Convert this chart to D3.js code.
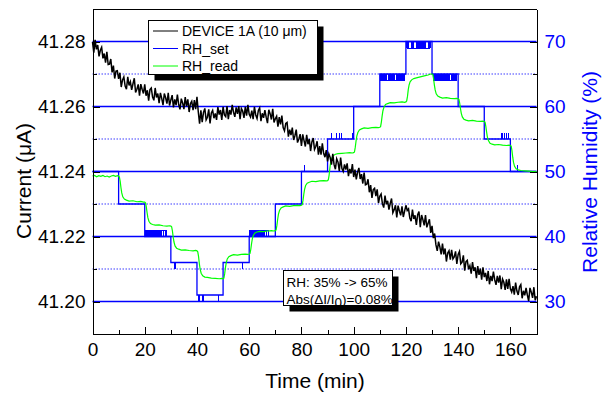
<!DOCTYPE html>
<html><head><meta charset="utf-8">
<script src="https://cdn.jsdelivr.net/npm/d3@7"></script>
<style>
body{margin:0;background:#fff}
text{font-family:"Liberation Sans",Arial,sans-serif}
</style>
</head><body>
<svg id="chart" width="604" height="396"></svg>
<script>
// ---------- data ----------
const xTicks = [0,20,40,60,80,100,120,140,160];
const xMinorTicks = [10,30,50,70,90,110,130,150,170];
const yLeftTicks = [41.20,41.22,41.24,41.26,41.28];
const yLeftMinorTicks = [41.21,41.23,41.25,41.27];
const yRightTicks = [30,40,50,60,70];
const yRightMinorTicks = [35,45,55,65];

const legendLabels = ["DEVICE 1A (10 μm)","RH_set","RH_read"];
const annotationLine1 = "RH: 35% -> 65%";

// current of DEVICE 1A (µA), one sample every 0.5 min from t = 0
const currentStepMin = 0.5;
const current = [
41.2799,41.2766,41.2805,41.2776,41.2789,41.2754,41.2773,41.2782,41.2748,41.2763,
41.2735,41.2768,41.2729,41.2730,41.2746,41.2705,41.2726,41.2686,41.2709,41.2710,
41.2685,41.2704,41.2660,41.2682,41.2691,41.2663,41.2653,41.2691,41.2665,41.2676,
41.2651,41.2670,41.2687,41.2643,41.2653,41.2668,41.2633,41.2669,41.2653,41.2640,
41.2668,41.2633,41.2650,41.2618,41.2652,41.2657,41.2629,41.2619,41.2657,41.2628,
41.2640,41.2610,41.2642,41.2625,41.2604,41.2640,41.2627,41.2609,41.2642,41.2603,
41.2620,41.2635,41.2597,41.2622,41.2604,41.2637,41.2606,41.2591,41.2624,41.2611,
41.2592,41.2629,41.2601,41.2622,41.2583,41.2609,41.2616,41.2589,41.2620,41.2592,
41.2630,41.2584,41.2547,41.2588,41.2552,41.2582,41.2594,41.2559,41.2567,41.2591,
41.2548,41.2580,41.2588,41.2564,41.2579,41.2559,41.2598,41.2575,41.2589,41.2559,
41.2599,41.2574,41.2569,41.2601,41.2561,41.2589,41.2575,41.2605,41.2582,41.2568,
41.2597,41.2577,41.2601,41.2561,41.2594,41.2586,41.2565,41.2599,41.2572,41.2605,
41.2576,41.2568,41.2587,41.2561,41.2599,41.2574,41.2563,41.2588,41.2596,41.2555,
41.2579,41.2565,41.2589,41.2567,41.2549,41.2590,41.2578,41.2560,41.2593,41.2551,
41.2562,41.2570,41.2538,41.2567,41.2545,41.2572,41.2535,41.2525,41.2548,41.2551,
41.2507,41.2529,41.2512,41.2535,41.2497,41.2510,41.2529,41.2489,41.2500,41.2515,
41.2479,41.2514,41.2495,41.2477,41.2513,41.2484,41.2500,41.2463,41.2491,41.2503,
41.2468,41.2477,41.2493,41.2452,41.2478,41.2452,41.2487,41.2456,41.2444,41.2466,
41.2431,41.2454,41.2443,41.2421,41.2454,41.2421,41.2407,41.2439,41.2429,41.2402,
41.2443,41.2409,41.2400,41.2422,41.2406,41.2425,41.2386,41.2408,41.2394,41.2423,
41.2383,41.2406,41.2376,41.2398,41.2411,41.2377,41.2392,41.2363,41.2397,41.2359,
41.2361,41.2376,41.2336,41.2358,41.2319,41.2344,41.2348,41.2324,41.2345,41.2303,
41.2324,41.2331,41.2301,41.2289,41.2326,41.2299,41.2310,41.2283,41.2302,41.2317,
41.2273,41.2282,41.2296,41.2259,41.2295,41.2278,41.2265,41.2293,41.2260,41.2278,
41.2296,41.2280,41.2285,41.2257,41.2247,41.2283,41.2254,41.2265,41.2236,41.2267,
41.2277,41.2229,41.2266,41.2252,41.2234,41.2266,41.2228,41.2241,41.2253,41.2211,
41.2233,41.2195,41.2209,41.2174,41.2156,41.2184,41.2168,41.2145,41.2178,41.2145,
41.2163,41.2123,41.2149,41.2156,41.2129,41.2159,41.2131,41.2137,41.2154,41.2116,
41.2145,41.2154,41.2116,41.2121,41.2142,41.2095,41.2123,41.2127,41.2099,41.2110,
41.2086,41.2121,41.2094,41.2105,41.2072,41.2109,41.2082,41.2101,41.2067,41.2105,
41.2075,41.2088,41.2063,41.2094,41.2053,41.2079,41.2063,41.2092,41.2067,41.2051,
41.2079,41.2058,41.2080,41.2038,41.2069,41.2059,41.2036,41.2068,41.2039,41.2070,
41.2039,41.2029,41.2047,41.2021,41.2058,41.2032,41.2020,41.2045,41.2052,41.2010,
41.2033,41.2019,41.2042,41.2020,41.2001,41.2042,41.2029,41.2011,41.2044,41.2004,
41.2016];

// RH set-point steps [time (min), RH %]
const rhSet = [[0,50],[10,45],[20,40],[30,36],[40,31],[50,36],[60,40],[70,45],[80,50],
  [90,55],[100,60],[110,65],[120,70],[130,65],[140,60],[150,55],[160,50],[170,50]];

// short excursions of the set-point [time (min), RH %]
const rhSetSpikes = [
 [20.3,41],[20.5,41],[20.7,41],[20.9,41],[21.1,41],[21.3,41],[21.5,41],[21.7,41],[21.9,41],[22.1,41],
 [22.3,41],[22.5,41],[22.7,41],[22.9,41],[23.1,41],[23.3,41],[23.5,41],[23.7,41],[23.9,41],[24.1,41],
 [24.3,41],[24.5,41],[24.7,41],[24.9,41],[25.1,41],[25.3,41],[25.6,41],[25.9,41],[26.2,41],[26.6,41],
 [27.0,41],[27.3,41],[27.8,41],[28.4,41],
 [31.3,35],[31.7,35],
 [40.4,30],[40.8,30],[42.0,30],[42.4,30],[48.1,30],
 [57.6,35],
 [60.3,41],[60.5,41],[60.7,41],[60.9,41],[61.1,41],[61.3,41],[61.5,41],[61.7,41],[61.9,41],[62.1,41],
 [62.3,41],[62.5,41],[62.7,41],[62.9,41],[63.1,41],[63.3,41],[63.5,41],[63.7,41],[63.9,41],[64.1,41],
 [64.3,41],[64.5,41],[64.8,41],[65.1,41],[65.4,41],[66.0,41],[66.6,41],[67.2,41],
 [81.3,51],
 [91.7,56],[93.6,56],[94.4,56],[95.4,56],[99.7,56],
 [110.4,64],[110.6,64],[110.8,64],[111.0,64],[111.2,64],[111.4,64],[111.6,64],[111.8,64],[112.0,64],
 [112.2,64],[112.4,64],[112.6,64],[113.2,64],[113.4,64],[113.6,64],[113.8,64],[114.0,64],[114.2,64],
 [114.4,64],[114.6,64],[114.8,64],[115.0,64],[115.2,64],[115.4,64],[115.6,64],[115.8,64],[116.4,64],
 [116.6,64],[116.8,64],[117.0,64],[117.2,64],[117.4,64],[117.6,64],[117.8,64],[118.0,64],[118.2,64],
 [118.4,64],[118.6,64],[118.8,64],[119.0,64],[119.3,64],
 [120.3,69],[120.6,69],[121.0,69],[122.0,69],[122.3,69],[122.6,69],[123.0,69],[124.0,69],[124.3,69],
 [124.6,69],[124.9,69],[125.2,69],[125.5,69],[125.8,69],[126.1,69],[126.4,69],[126.7,69],[127.0,69],
 [127.3,69],[127.6,69],[128.5,69],[128.8,69],[129.1,69],[129.4,69],
 [130.4,64],[130.6,64],[130.8,64],[131.0,64],[131.2,64],[131.4,64],[131.6,64],[131.8,64],[132.0,64],
 [132.2,64],[132.4,64],[132.6,64],[132.8,64],[133.4,64],[133.6,64],[133.8,64],[134.0,64],[134.2,64],
 [134.4,64],[134.6,64],[134.8,64],[135.0,64],[135.2,64],[135.4,64],[135.6,64],[135.8,64],[136.0,64],
 [136.2,64],[136.4,64],[136.6,64],[136.8,64],[137.4,64],[137.6,64],[137.8,64],[138.0,64],[138.2,64],
 [138.4,64],[138.6,64],[138.8,64],[139.0,64],[139.2,64],[139.5,64],
 [156.6,56],[157.1,56],[157.6,56],[158.6,56],[159.2,56],
 [162.7,51]];

// measured RH [time (min), RH %]
const rhRead = [
 [0,49.3],[0.8,49.4],[1.6,49.2],[2.4,49.35],[3.2,49.25],[4,49.4],[4.8,49.2],[5.6,49.3],[6.4,49.15],[7.2,49.3],[8,49.4],[8.8,49.25],[9.6,49.35],
 [10,49.3],[10.3,49.15],[10.6,48.5],[10.9,47.5],[11.2,46.7],[11.6,46.1],[12.2,45.75],[13,45.6],[14,45.45],[15.5,45.5],[17,45.35],[18.5,45.4],[19.5,45.3],
 [20,45.3],[20.3,45.2],[20.6,44.55],[20.9,43.65],[21.2,42.9],[21.6,42.35],[22.2,42.0],[23,41.85],[24,41.75],[25.5,41.8],[27,41.65],[28.5,41.6],[29.5,41.65],
 [30,41.6],[30.3,41.5],[30.6,40.85],[30.9,39.9],[31.2,39.15],[31.6,38.55],[32.2,38.2],[33,38.05],[34,37.9],[35.5,37.95],[37,37.85],[38.5,37.8],[39.5,37.85],
 [40,37.8],[40.3,37.65],[40.6,36.95],[40.9,35.85],[41.2,35.0],[41.6,34.35],[42.2,33.95],[43,33.75],[44,33.7],[45.5,33.6],[47,33.55],[48.5,33.5],[49.5,33.55],
 [50,33.5],[50.3,33.6],[50.6,34.25],[50.9,35.2],[51.2,35.95],[51.6,36.55],[52.2,36.9],[53,37.05],[54,37.2],[55.5,37.15],[57,37.25],[58.5,37.3],[59.5,37.25],
 [60,37.3],[60.3,37.4],[60.6,38.0],[60.9,38.9],[61.2,39.65],[61.6,40.2],[62.2,40.55],[63,40.7],[64,40.8],[65.5,40.75],[67,40.85],[68.5,40.9],[69.5,40.85],
 [70,40.9],[70.3,41.0],[70.6,41.7],[70.9,42.65],[71.2,43.45],[71.6,44.0],[72.2,44.4],[73,44.55],[74,44.7],[75.5,44.65],[77,44.75],[78.5,44.8],[79.5,44.75],
 [80,44.8],[80.3,44.9],[80.6,45.55],[80.9,46.5],[81.2,47.25],[81.6,47.85],[82.2,48.2],[83,48.35],[84,48.5],[85.5,48.45],[87,48.55],[88.5,48.6],[89.5,48.55],
 [90,48.6],[90.3,48.75],[90.6,49.45],[90.9,50.55],[91.2,51.4],[91.6,52.05],[92.2,52.45],[93,52.65],[94,52.75],[95.5,52.8],[97,52.85],[98.5,52.9],[99.5,52.85],
 [100,52.9],[100.3,53.0],[100.6,53.7],[100.9,54.65],[101.2,55.45],[101.6,56.0],[102.2,56.4],[103,56.55],[104,56.7],[105.5,56.65],[107,56.75],[108.5,56.8],[109.5,56.75],
 [110,56.8],[110.3,56.9],[110.6,57.6],[110.9,58.55],[111.2,59.35],[111.6,59.9],[112.2,60.3],[113,60.45],[114,60.6],[115.5,60.55],[117,60.65],[118.5,60.7],[119.5,60.65],
 [120,60.7],[120.3,60.85],[120.6,61.55],[120.9,62.6],[121.2,63.3],[121.6,63.8],[122.2,64.1],[123,64.3],[124,64.4],[125.5,64.55],[127,64.7],[128.5,64.85],[129.5,65.0],
 [130,65.0],[130.3,64.9],[130.6,64.25],[130.9,63.3],[131.2,62.55],[131.6,61.95],[132.2,61.6],[133,61.45],[134,61.3],[135.5,61.35],[137,61.25],[138.5,61.2],[139.5,61.25],
 [140,61.2],[140.3,61.1],[140.6,60.5],[140.9,59.65],[141.2,58.95],[141.6,58.4],[142.2,58.05],[143,57.9],[144,57.8],[145.5,57.85],[147,57.75],[148.5,57.7],[149.5,57.75],
 [150,57.7],[150.3,57.6],[150.6,56.95],[150.9,56.05],[151.2,55.3],[151.6,54.75],[152.2,54.35],[153,54.2],[154,54.1],[155.5,54.15],[157,54.05],[158.5,54.0],[159.5,54.05],
 [160,54.0],[160.3,53.9],[160.6,53.2],[160.9,52.2],[161.2,51.4],[161.6,50.8],[162.2,50.4],[163,50.25],[164,50.15],[165.5,50.1],[167,50.05],[168.5,50.0],[170,50.0]];

// ---------- drawing ----------
const BLUE = "#0000ff";
const svg = d3.select("#chart");
const L = 92.5, R = 536.5, T = 9, B = 334;

const x = d3.scaleLinear().domain([0,170]).range([L,R]);
const yL = d3.scaleLinear().domain([41.19,41.29]).range([B,T]);
const yR = d3.scaleLinear().domain([25,75]).range([B,T]);

// horizontal RH reference lines
const grid = svg.append("g");
grid.selectAll("line.maj").data(yRightTicks).join("line")
  .attr("x1",L).attr("x2",R).attr("y1",d=>yR(d)).attr("y2",d=>yR(d))
  .attr("stroke",BLUE).attr("stroke-width",1.5);
grid.selectAll("line.min").data(yRightMinorTicks).join("line")
  .attr("x1",L).attr("x2",R).attr("y1",d=>yR(d)).attr("y2",d=>yR(d))
  .attr("stroke","#3c3cff").attr("stroke-width",1.2).attr("stroke-dasharray","1.5,1.5");

// RH set
const setLine = d3.line().x(d=>x(d[0])).y(d=>yR(d[1])).curve(d3.curveStepAfter);
svg.append("path").datum(rhSet).attr("d",setLine)
  .attr("fill","none").attr("stroke",BLUE).attr("stroke-width",1.3);
function setAt(t){ let v = rhSet[0][1]; for (const s of rhSet) if (s[0] <= t) v = s[1]; return v; }
svg.append("g").attr("shape-rendering","crispEdges").selectAll("line").data(rhSetSpikes).join("line")
  .attr("x1",d=>x(d[0])).attr("x2",d=>x(d[0]))
  .attr("y1",d=>yR(setAt(d[0]))).attr("y2",d=>yR(d[1]))
  .attr("stroke",BLUE).attr("stroke-width",1);
// tops of the dense excursion blocks
const blocks = d3.groups(rhSetSpikes, d=>d[1] + "_" + Math.floor(d[0]/10));
blocks.forEach(([k, pts]) => {
  if (pts.length > 6) {
    svg.append("path").datum(pts).attr("d", d3.line().x(d=>x(d[0])).y(d=>yR(d[1])))
      .attr("fill","none").attr("stroke",BLUE).attr("stroke-width",1).attr("shape-rendering","crispEdges");
  }
});

// RH read
svg.append("path").datum(rhRead)
  .attr("d", d3.line().x(d=>x(d[0])).y(d=>yR(d[1])))
  .attr("fill","none").attr("stroke","#00ff00").attr("stroke-width",1.2);

// current
svg.append("path").datum(current)
  .attr("d", d3.line().x((d,i)=>x(i*currentStepMin)).y(d=>yL(d)))
  .attr("fill","none").attr("stroke","#000").attr("stroke-width",1.5).attr("stroke-linejoin","miter");

// ---------- axes ----------
const fs = 19;
const ax = svg.append("g").attr("shape-rendering","crispEdges");
ax.append("g").attr("transform",`translate(0,${B})`)
  .call(d3.axisBottom(x).tickValues(xTicks).tickSize(-7).tickSizeOuter(0).tickPadding(9).tickFormat(d3.format("d")));
ax.append("g").attr("transform",`translate(0,${B})`)
  .call(d3.axisBottom(x).tickValues(xMinorTicks).tickSize(-4).tickSizeOuter(0).tickFormat(""))
  .select(".domain").remove();
ax.append("g").attr("transform",`translate(${L},0)`)
  .call(d3.axisLeft(yL).tickValues(yLeftTicks).tickSize(-7).tickSizeOuter(0).tickPadding(7).tickFormat(d3.format(".2f")));
ax.append("g").attr("transform",`translate(${L},0)`)
  .call(d3.axisLeft(yL).tickValues(yLeftMinorTicks).tickSize(-4).tickSizeOuter(0).tickFormat(""))
  .select(".domain").remove();
const right = ax.append("g").attr("transform",`translate(${R},0)`)
  .call(d3.axisRight(yR).tickValues(yRightTicks).tickSize(-7).tickSizeOuter(0).tickPadding(8).tickFormat(d3.format("d")));
ax.append("g").attr("transform",`translate(${R},0)`)
  .call(d3.axisRight(yR).tickValues(yRightMinorTicks).tickSize(-4).tickSizeOuter(0).tickFormat(""))
  .select(".domain").remove();
ax.append("line").attr("x1",L).attr("x2",R).attr("y1",T).attr("y2",T).attr("stroke","#000");
ax.selectAll(".domain").attr("stroke","#000");
ax.selectAll(".tick line").attr("stroke","#000");
svg.selectAll(".tick text").attr("font-size",fs).attr("font-family","Liberation Sans, Arial, sans-serif").attr("fill","#000");
right.selectAll(".tick text").attr("fill",BLUE);

// axis titles
svg.append("text").attr("x",315).attr("y",388).attr("text-anchor","middle")
  .attr("font-size",21).text("Time (min)");
svg.append("text").attr("transform","translate(31,181) rotate(-90)").attr("text-anchor","middle")
  .attr("font-size",21).text("Current (μA)");
svg.append("text").attr("transform","translate(597,172) rotate(-90)").attr("text-anchor","middle")
  .attr("font-size",21).attr("fill",BLUE).text("Relative Humidity (%)");

// ---------- legend ----------
const lg = svg.append("g");
lg.append("rect").attr("x",154.5).attr("y",26.5).attr("width",169).attr("height",54).attr("fill","#000");
lg.append("rect").attr("x",148.5).attr("y",20.5).attr("width",169).attr("height",54)
  .attr("fill","#fff").attr("stroke","#000");
const legendColors = ["#000", BLUE, "#00ff00"];
legendLabels.forEach((lab,i) => {
  const cy = 31 + i*17.5;
  lg.append("line").attr("x1",153).attr("x2",178).attr("y1",cy).attr("y2",cy)
    .attr("stroke",legendColors[i]).attr("stroke-width",1);
  lg.append("text").attr("x",182).attr("y",cy).attr("dy","0.36em").attr("font-size",14).text(lab);
});

// ---------- annotation ----------
const an = svg.append("g");
an.append("rect").attr("x",289.5).attr("y",276.5).attr("width",109).attr("height",35).attr("fill","#000");
an.append("rect").attr("x",283.5).attr("y",270.5).attr("width",109).attr("height",35)
  .attr("fill","#fff").attr("stroke","#000");
an.append("text").attr("x",286.5).attr("y",287).attr("font-size",13.5).text(annotationLine1);
const t2 = an.append("text").attr("x",286.5).attr("y",303.5).attr("font-size",13.5);
t2.append("tspan").text("Abs(ΔI/I");
t2.append("tspan").attr("dy",3).text("0");
t2.append("tspan").attr("dy",-3).text(")=0.08%");
</script>
</body></html>
